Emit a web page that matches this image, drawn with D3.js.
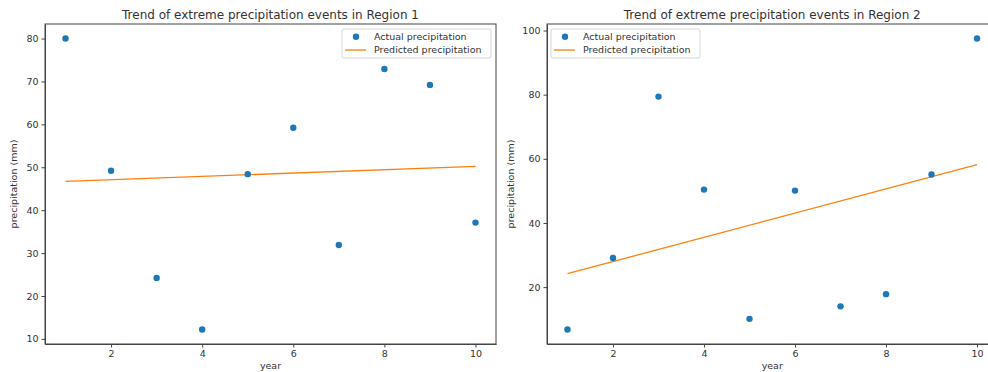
<!DOCTYPE html>
<html>
<head>
<meta charset="utf-8">
<script src="https://cdn.jsdelivr.net/npm/d3@7"></script>
<style>
  body { margin: 0; background: #fff; overflow: hidden; }
  svg text { font-family: "DejaVu Sans", sans-serif; fill: #333; }
  .axis path, .axis line { stroke: #444; }
  .axis text { font-size: 9.5px; }
</style>
</head>
<body>
<script>
// Data
let years = [1, 2, 3, 4, 5, 6, 7, 8, 9, 10];
let region1Actual = [80, 49.2, 24.2, 12.2, 48.4, 59.2, 31.9, 72.9, 69.2, 37.1];
let region2Actual = [6.8, 29.1, 79.4, 50.4, 10.1, 50.1, 14.0, 17.8, 55.1, 97.5];
// predicted (fitted) values at first and last year
let predictedYears = [1, 10];
let region1Predicted = [46.7, 50.2];
let region2Predicted = [24.2, 58.2];
let titles = ["Trend of extreme precipitation events in Region 1",
              "Trend of extreme precipitation events in Region 2"];
let yTicks1 = [10, 20, 30, 40, 50, 60, 70, 80];
let yTicks2 = [20, 40, 60, 80, 100];
let xTicks = [2, 4, 6, 8, 10];

let svgWidth = 988;
let svgHeight = 372;

let svg = d3.select("body")
    .append("svg")
    .attr("width", svgWidth)
    .attr("height", svgHeight);

// one panel per region (the right one runs past the picture edge, as in the source)
let panels = [
    { left: 45, right: 496, top: 24, bottom: 344, actual: region1Actual, predicted: region1Predicted,
      yTicks: yTicks1, title: titles[0], legendX: 342, ylabelX: 14 },
    { left: 547, right: 997.5, top: 24, bottom: 344, actual: region2Actual, predicted: region2Predicted,
      yTicks: yTicks2, title: titles[1], legendX: 551, ylabelX: 511 }
];

panels.forEach(function(p) {
    let w = p.right - p.left;
    let h = p.bottom - p.top;
    let g = svg.append("g").attr("transform", `translate(${p.left}, ${p.top})`);

    // matplotlib-like 5% margins
    let yMin = d3.min(p.actual), yMax = d3.max(p.actual);
    let yPad = (yMax - yMin) * 0.05;
    let xScale = d3.scaleLinear().domain([1 - 0.45, 10 + 0.45]).range([0, w]);
    let yScale = d3.scaleLinear().domain([yMin - yPad, yMax + yPad]).range([h, 0]);

    g.append("g")
        .attr("class", "axis")
        .attr("transform", `translate(0, ${h})`)
        .call(d3.axisBottom(xScale).tickValues(xTicks).tickSize(3.5).tickPadding(3).tickSizeOuter(0));
    g.append("g")
        .attr("class", "axis")
        .call(d3.axisLeft(yScale).tickValues(p.yTicks).tickSize(3.5).tickPadding(3).tickSizeOuter(0));

    // frame
    g.append("rect")
        .attr("width", w).attr("height", h)
        .attr("fill", "none").attr("stroke", "#444").attr("stroke-width", 1);

    // predicted line
    let line = d3.line()
        .x((d, i) => xScale(predictedYears[i]))
        .y(d => yScale(d));
    g.append("path")
        .datum(p.predicted)
        .attr("d", line)
        .attr("fill", "none")
        .attr("stroke", "#ff7f0e")
        .attr("stroke-width", 1.3);

    // actual points
    g.selectAll("circle")
        .data(p.actual)
        .enter()
        .append("circle")
        .attr("cx", (d, i) => xScale(years[i]))
        .attr("cy", d => yScale(d))
        .attr("r", 3.2)
        .attr("fill", "#1f77b4");

    // title
    svg.append("text")
        .attr("x", (p.left + p.right) / 2)
        .attr("y", 19)
        .attr("text-anchor", "middle")
        .style("font-size", "12px")
        .text(p.title);

    // axis labels
    svg.append("text")
        .attr("x", (p.left + p.right) / 2)
        .attr("y", 369.3)
        .attr("text-anchor", "middle")
        .style("font-size", "9.5px")
        .text("year");
    svg.append("text")
        .attr("transform", `translate(${p.ylabelX}, ${(p.top + p.bottom) / 2}) rotate(-90)`)
        .attr("text-anchor", "middle")
        .attr("dy", "0.35em")
        .style("font-size", "9.5px")
        .text("precipitation (mm)");

    // legend
    let lg = svg.append("g").attr("transform", `translate(${p.legendX}, 29)`);
    lg.append("rect")
        .attr("width", 149).attr("height", 29).attr("rx", 2)
        .attr("fill", "#fff").attr("stroke", "#ccc").attr("stroke-width", 0.8);
    lg.append("circle").attr("cx", 14).attr("cy", 7.7).attr("r", 3.2).attr("fill", "#1f77b4");
    lg.append("line").attr("x1", 3).attr("x2", 24).attr("y1", 21).attr("y2", 21)
        .attr("stroke", "#ff7f0e").attr("stroke-width", 1.3);
    lg.append("text").attr("x", 32).attr("y", 7.7).attr("dy", "0.35em")
        .style("font-size", "9.5px").text("Actual precipitation");
    lg.append("text").attr("x", 32).attr("y", 21).attr("dy", "0.35em")
        .style("font-size", "9.5px").text("Predicted precipitation");
});
</script>
</body>
</html>
